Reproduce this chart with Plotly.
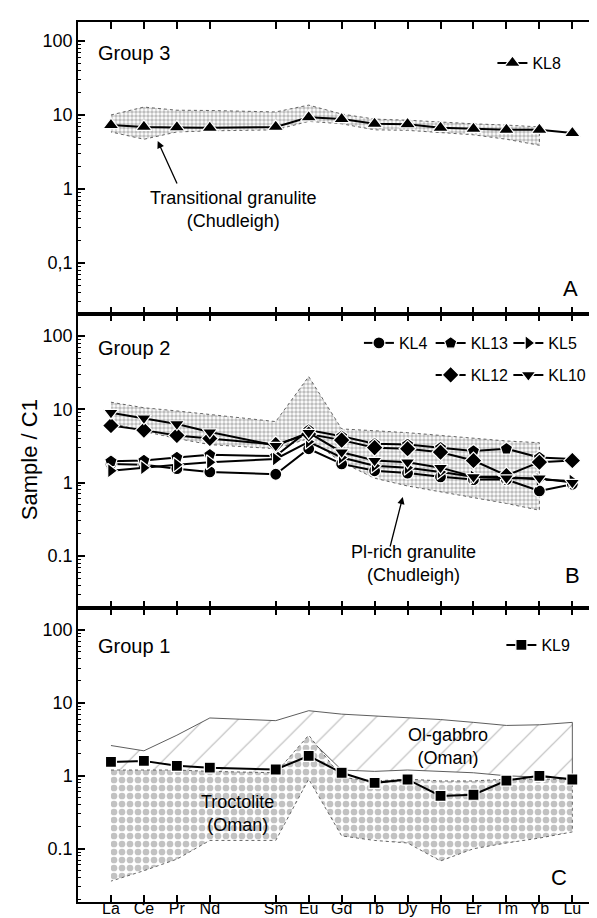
import plotly.graph_objects as go
from plotly.subplots import make_subplots

# ---------------- data ----------------
elements = ["La", "Ce", "Pr", "Nd", "Sm", "Eu", "Gd", "Tb", "Dy", "Ho", "Er", "Tm", "Yb", "Lu"]
positions = [1, 2, 3, 4, 6, 7, 8, 9, 10, 11, 12, 13, 14, 15]

# Group 3
kl8 = [7.3, 6.9, 6.8, 6.7, 6.9, 9.3, 8.8, 7.6, 7.5, 6.7, 6.5, 6.3, 6.3, 5.7]
trans_upper = [10, 12.8, 11.6, 11.5, 11, 13.6, 10.3, 8.8, 8.5, 8.0, 7.6, 7.3, 6.9]   # La..Yb
trans_lower = [5.9, 4.7, 5.9, 6.1, 6.3, 8.2, 7.6, 6.3, 6.2, 5.8, 5.4, 4.7, 3.9]

# Group 2
kl4 = [1.8, 1.75, 1.55, 1.4, 1.3, 2.9, 1.8, 1.45, 1.35, 1.2, 1.1, 1.1, 0.77, 0.95]
kl13 = [1.95, 2.0, 2.2, 2.4, 2.3, 5.2, 4.3, 3.4, 3.3, 3.0, 2.7, 2.9, 2.2, 2.1]
kl5 = [1.45, 1.6, 1.75, 1.9, 2.1, 3.6, 2.2, 1.7, 1.6, 1.4, 1.2, 1.2, 1.1, 1.05]
kl12 = [6.0, 5.2, 4.4, 4.0, 3.3, 4.6, 3.8, 3.0, 2.9, 2.6, 2.0, 1.25, 1.9, 2.0]
kl10 = [9.0, 7.6, 6.3, 4.9, 3.2, 4.8, 2.6, 2.0, 1.9, 1.6, 1.2, 1.15, 1.15, 1.0]
plrich_upper = [12.5, 10.5, 9.5, 8.5, 6.8, 28, 5.4, 5.1, 4.8, 4.4, 4.0, 3.7, 3.5]   # La..Yb
plrich_lower = [6.5, 5.0, 4.0, 3.3, 2.9, 4.0, 1.9, 1.15, 0.9, 0.75, 0.62, 0.52, 0.42]

# Group 1
kl9 = [1.55, 1.6, 1.37, 1.29, 1.22, 1.87, 1.1, 0.8, 0.89, 0.53, 0.55, 0.86, 1.0, 0.89]
olgab_upper = [2.6, 2.2, 3.6, 6.2, 5.7, 7.8, 7.0, 6.6, 6.2, 5.9, 5.4, 4.9, 5.0, 5.4]
olgab_lower = [0.3, 0.4, 0.51, 0.66, 1.1, 3.3, 1.2, 1.15, 1.2, 1.15, 1.1, 1.0, 0.95, 0.92]
troc_upper = [1.2, 1.2, 1.2, 1.15, 1.1, 3.6, 0.95, 0.85, 0.9, 0.85, 0.85, 0.9, 0.9, 0.9]
troc_lower = [0.036, 0.05, 0.072, 0.13, 0.13, 0.9, 0.15, 0.13, 0.12, 0.068, 0.1, 0.12, 0.14, 0.17]

ytick_vals = [0.1, 1, 10, 100]
ytick_text_a = ["0,1", "1", "10", "100"]
ytick_text = ["0.1", "1", "10", "100"]

# ---------------- figure ----------------
W, H = 597, 918
ML, MR, MT, MB = 70, 1, 14, 24
PW, PH = W - ML - MR, H - MT - MB


def P(px, py):
    return (px - ML) / PW, 1 - (py - MT) / PH


FONT = "Liberation Sans, Arial, sans-serif"
fig = make_subplots(rows=3, cols=1, vertical_spacing=0)


def envelope(row, up, lo, pattern, outline):
    xs = positions[:len(up)] + positions[:len(lo)][::-1]
    ys = up + lo[::-1]
    fig.add_trace(go.Scatter(
        x=xs, y=ys, mode="lines", fill="toself",
        fillcolor="rgba(255,255,255,0)",
        fillpattern=pattern, line=outline,
        hoverinfo="skip", showlegend=False), row=row, col=1)


stipple = dict(shape=".", size=4, solidity=0.6, fgcolor="#7d7d7d", bgcolor="white")
dotted_outline = dict(color="#555", width=0.9, dash="dot")

envelope(1, trans_upper, trans_lower, stipple, dotted_outline)
envelope(2, plrich_upper, plrich_lower, stipple, dotted_outline)
envelope(3, olgab_upper, olgab_lower,
         dict(shape="/", size=24, solidity=0.05, fgcolor="#777", bgcolor="white"),
         dict(color="#333", width=0.8))
envelope(3, troc_upper, troc_lower,
         dict(shape=".", size=8, solidity=0.55, fgcolor="#858585", bgcolor="white"),
         dotted_outline)


def series(row, vals, name, symbol, legend, size=12):
    fig.add_trace(go.Scatter(
        x=positions, y=vals, name=name, mode="lines+markers",
        line=dict(color="black", width=2),
        marker=dict(symbol=symbol, size=size, color="black",
                    line=dict(color="white", width=1.2)),
        legend=legend), row=row, col=1)


series(1, kl8, "KL8", "triangle-up", "legend", 14)
series(2, kl4, "KL4", "circle", "legend2")
series(2, kl13, "KL13", "pentagon", "legend3", 13)
series(2, kl5, "KL5", "triangle-right", "legend4", 13)
series(2, kl12, "KL12", "diamond", "legend5", 13)
series(2, kl10, "KL10", "triangle-down", "legend6", 13)
series(3, kl9, "KL9", "square", "legend7", 11)

# ---------------- axes ----------------
minor_vals = [m * 10 ** e for e in range(-2, 3) for m in range(2, 10)]
domains = [(1 - (306 - MT) / PH, 1.0),
           (1 - (600 - MT) / PH, 1 - (306 - MT) / PH),
           (0.0, 1 - (600 - MT) / PH)]
yranges = [[-1.69, 2.257], [-1.71, 2.30], [-1.73, 2.30]]

for i in range(3):
    r = i + 1
    fig.update_yaxes(
        type="log", range=yranges[i], domain=domains[i],
        tickvals=ytick_vals, ticktext=(ytick_text_a if i == 0 else ytick_text),
        ticks="inside", ticklen=7, tickwidth=1.5, tickcolor="black",
        minor=dict(tickvals=minor_vals, ticks="inside", ticklen=3.5,
                   tickwidth=1, tickcolor="black", showgrid=False),
        showline=True, linecolor="black", linewidth=1.5, mirror="allticks",
        showgrid=False, zeroline=False,
        tickfont=dict(family=FONT, size=18, color="black"),
        row=r, col=1)
    fig.update_xaxes(
        range=[0, 15.9], tickvals=positions, ticktext=elements,
        showticklabels=(i == 2),
        ticks="inside", ticklen=7, tickwidth=1.5, tickcolor="black",
        showline=True, linecolor="black", linewidth=1.5, mirror="allticks",
        showgrid=False, zeroline=False, ticklabelstandoff=-9,
        tickfont=dict(family=FONT, size=16, color="black"),
        row=r, col=1)

# ---------------- legends (one per entry, placed like the original key) ----------------
leg_common = dict(font=dict(family=FONT, size=16, color="black"),
                  bgcolor="rgba(0,0,0,0)", borderwidth=0, itemwidth=30,
                  orientation="h", xanchor="left", yanchor="middle")
legend_pos = {
    "legend": (486, 55),
    "legend2": (352, 335),
    "legend3": (424, 335),
    "legend4": (502, 335),
    "legend5": (424, 367),
    "legend6": (502, 367),
    "legend7": (495, 637),
}
for key, (px, py) in legend_pos.items():
    x, y = P(px, py)
    fig.update_layout({key: dict(x=x, y=y, **leg_common)})

# ---------------- annotations ----------------
anns = []


def text(px, py, s, size=18, xanchor="center"):
    x, y = P(px, py)
    anns.append(dict(x=x, y=y, xref="paper", yref="paper", text=s,
                     showarrow=False, xanchor=xanchor, yanchor="middle",
                     font=dict(family=FONT, size=size, color="black")))


def arrow(hx, hy, tx, ty):
    x, y = P(hx, hy)
    anns.append(dict(x=x, y=y, xref="paper", yref="paper", text="",
                     showarrow=True, ax=tx - hx, ay=ty - hy,
                     arrowhead=2, arrowsize=1.1, arrowwidth=1.3,
                     arrowcolor="black"))


text(88, 45, "Group 3", 20, "left")
text(88, 340, "Group 2", 20, "left")
text(88, 638, "Group 1", 20, "left")
text(564, 280, "A", 22)
text(566, 567, "B", 22)
text(553, 869, "C", 22)
text(226, 201, "Transitional granulite<br>(Chudleigh)", 18)
text(407, 555, "Pl-rich granulite<br>(Chudleigh)", 18)
text(441, 738, "Ol-gabbro<br>(Oman)", 18)
text(230, 805, "Troctolite<br>(Oman)", 18)
arrow(150, 133, 170, 177)
arrow(396, 489, 383, 540)

tx, ty = P(21, 452)
anns.append(dict(x=tx, y=ty, xref="paper", yref="paper", text="Sample / C1",
                 showarrow=False, textangle=-90, xanchor="center", yanchor="middle",
                 font=dict(family=FONT, size=22, color="black")))

fig.update_layout(
    width=W, height=H, autosize=False,
    margin=dict(l=ML, r=MR, t=MT, b=MB),
    paper_bgcolor="white", plot_bgcolor="white",
    annotations=anns, showlegend=True,
    font=dict(family=FONT, color="black"),
)

fig.write_html("out.html")
